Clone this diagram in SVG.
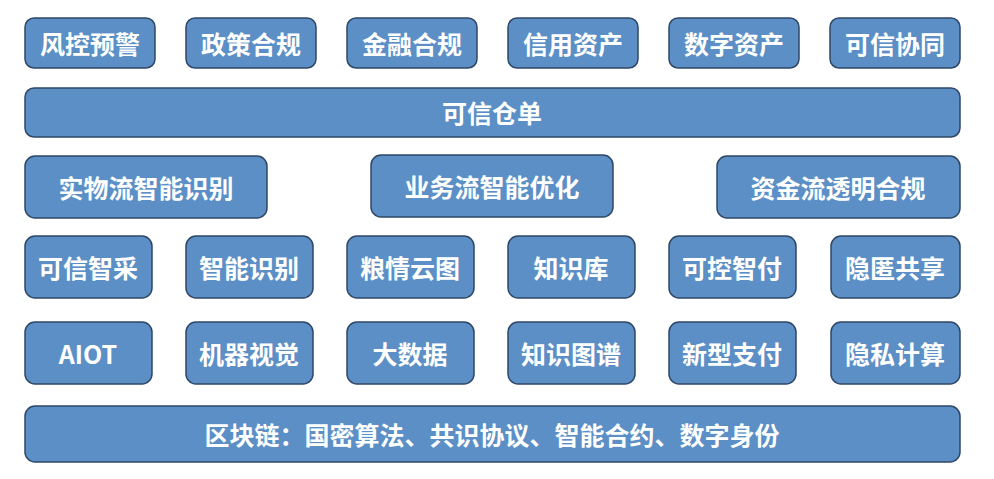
<svg xmlns="http://www.w3.org/2000/svg" width="994" height="479" viewBox="0 0 994 479">
<style>
rect{fill:#5b8fc6;stroke:#2e4766;stroke-width:1.5}
text{fill:#fff;font-family:"Noto Sans CJK SC","Liberation Sans",sans-serif;font-weight:bold;font-size:25px;text-anchor:middle;dominant-baseline:central}
</style>
<rect x="0" y="0" width="994" height="479" style="fill:#fff;stroke:none"/>
<g id="n1"><rect x="25" y="18" width="130" height="50" rx="9"/><text x="90" y="43">风控预警</text></g>
<g id="n2"><rect x="186" y="18" width="130" height="50" rx="9"/><text x="251" y="43">政策合规</text></g>
<g id="n3"><rect x="347" y="18" width="130" height="50" rx="9"/><text x="412" y="43">金融合规</text></g>
<g id="n4"><rect x="508" y="18" width="130" height="50" rx="9"/><text x="573" y="43">信用资产</text></g>
<g id="n5"><rect x="669" y="18" width="130" height="50" rx="9"/><text x="734" y="43">数字资产</text></g>
<g id="n6"><rect x="830" y="18" width="130" height="50" rx="9"/><text x="895" y="43">可信协同</text></g>
<g id="n7"><rect x="25" y="88" width="935" height="49" rx="9"/><text x="492" y="112">可信仓单</text></g>
<g id="n8"><rect x="25" y="156" width="242" height="62" rx="10"/><text x="146" y="187">实物流智能识别</text></g>
<g id="n9"><rect x="371" y="155" width="242" height="62" rx="10"/><text x="492" y="186">业务流智能优化</text></g>
<g id="n10"><rect x="717" y="156" width="243" height="62" rx="10"/><text x="838" y="187">资金流透明合规</text></g>
<g id="n11"><rect x="25" y="236" width="127" height="62" rx="10"/><text x="88" y="267">可信智采</text></g>
<g id="n12"><rect x="186" y="236" width="127" height="62" rx="10"/><text x="249" y="267">智能识别</text></g>
<g id="n13"><rect x="347" y="236" width="127" height="62" rx="10"/><text x="410" y="267">粮情云图</text></g>
<g id="n14"><rect x="508" y="236" width="127" height="62" rx="10"/><text x="571" y="267">知识库</text></g>
<g id="n15"><rect x="669" y="236" width="127" height="62" rx="10"/><text x="732" y="267">可控智付</text></g>
<g id="n16"><rect x="831" y="236" width="129" height="62" rx="10"/><text x="895" y="267">隐匿共享</text></g>
<g id="n17"><rect x="25" y="322" width="127" height="62" rx="10"/><text x="88" y="353">AIOT</text></g>
<g id="n18"><rect x="186" y="322" width="127" height="62" rx="10"/><text x="249" y="353">机器视觉</text></g>
<g id="n19"><rect x="347" y="322" width="127" height="62" rx="10"/><text x="410" y="353">大数据</text></g>
<g id="n20"><rect x="508" y="322" width="127" height="62" rx="10"/><text x="571" y="353">知识图谱</text></g>
<g id="n21"><rect x="669" y="322" width="127" height="62" rx="10"/><text x="732" y="353">新型支付</text></g>
<g id="n22"><rect x="831" y="322" width="129" height="62" rx="10"/><text x="895" y="353">隐私计算</text></g>
<g id="n23"><rect x="25" y="406" width="935" height="56" rx="10"/><text x="492" y="434">区块链：国密算法、共识协议、智能合约、数字身份</text></g>
<g id="connectors"></g>
</svg>
